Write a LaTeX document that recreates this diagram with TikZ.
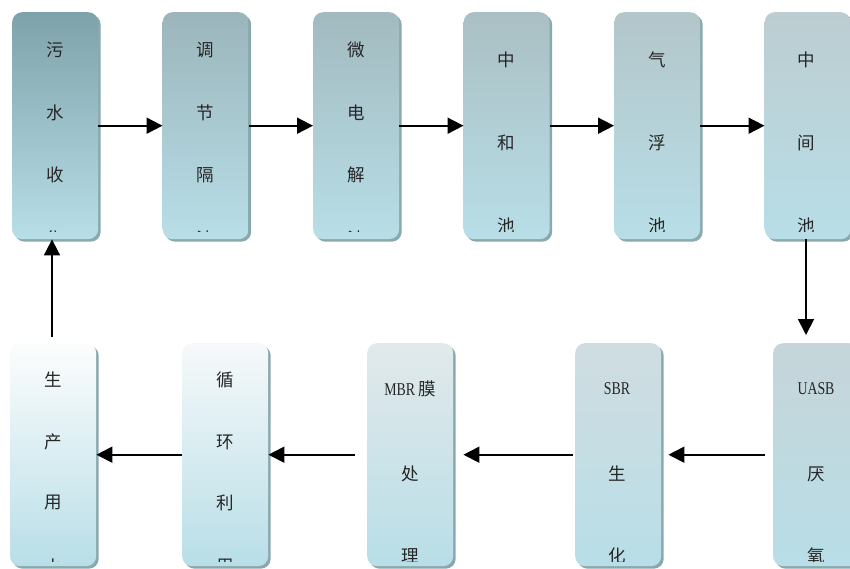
\documentclass[tikz,border=0pt]{standalone}
\usepackage{fontspec}
\newfontfamily\cjk{Noto Sans CJK SC}
\newfontfamily\latn{Liberation Serif}[FakeStretch=0.77]
\usetikzlibrary{arrows.meta,shadows}

\definecolor{shd}{HTML}{8AA9AF}
\definecolor{bot}{HTML}{B8DEE7}
\definecolor{tA}{HTML}{7FA2AA}
\definecolor{tB}{HTML}{9BB5BB}
\definecolor{tC}{HTML}{A2BABF}
\definecolor{tD}{HTML}{AABFC3}
\definecolor{tE}{HTML}{B3C6CA}
\definecolor{tF}{HTML}{BCCDD1}
\definecolor{tG}{HTML}{C6D5D9}
\definecolor{tH}{HTML}{D0DDE0}
\definecolor{tI}{HTML}{E2E9EB}
\definecolor{tJ}{HTML}{F6F9FA}
\definecolor{tK}{HTML}{FCFDFD}
\definecolor{ink}{HTML}{262626}

\tikzset{
  stage/.style={anchor=north west, minimum width=86pt, rounded corners=10pt,
    inner sep=0pt, bottom color=bot, top color=#1,
    drop shadow={shadow xshift=2.5pt, shadow yshift=-2.5pt, fill=shd, opacity=1}},
  toprow/.style={stage=#1, minimum height=227pt},
  botrow/.style={stage=#1, minimum height=223pt},
  lbl/.style={font=\cjk\fontsize{17.5}{17.5}\selectfont, text=ink, inner sep=0pt},
  lat/.style={font=\latn\fontsize{18}{18}\selectfont, text=ink, inner sep=0pt},
  flow/.style={line width=1.8pt, -{Triangle[length=16pt,width=16pt]}}
}

\begin{document}
\begin{tikzpicture}[x=1pt, y=-1pt]
\clip (0,0) rectangle (850,569);
\fill[white] (0,0) rectangle (850,569);

% upper row of stages
\node[toprow=tA] (b1) at (12,12) {};
\node[toprow=tB] (b2) at (162.5,12) {};
\node[toprow=tC] (b3) at (313,12) {};
\node[toprow=tD] (b4) at (463.5,12) {};
\node[toprow=tE] (b5) at (614,12) {};
\node[toprow=tF] (b6) at (764.5,12) {};

% lower row of stages
\node[botrow=tG] (c1) at (773,343) {};
\node[botrow=tH] (c2) at (575,343) {};
\node[botrow=tI] (c3) at (367,343) {};
\node[botrow=tJ] (c4) at (182,343) {};
\node[botrow=tK] (c5) at (10,343) {};

% labels, cut off at the lower edge of each box
\begin{scope}
\clip (0,0) rectangle (850,231);
\node[lbl] (l11) at (55,50) {污};
\node[lbl] (l12) at (55,113) {水};
\node[lbl] (l13) at (55,175) {收};
\node[lbl] (l14) at (55,239) {集};
\node[lbl] (l21) at (205,50) {调};
\node[lbl] (l22) at (205,113) {节};
\node[lbl] (l23) at (205,175) {隔};
\node[lbl] (l24) at (205,239) {油};
\node[lbl] (l31) at (356,50) {微};
\node[lbl] (l32) at (356,113) {电};
\node[lbl] (l33) at (356,175) {解};
\node[lbl] (l34) at (356,239) {池};
\node[lbl] (l41) at (506,60) {中};
\node[lbl] (l42) at (506,143) {和};
\node[lbl] (l43) at (506,226) {池};
\node[lbl] (l51) at (657,60) {气};
\node[lbl] (l52) at (657,143) {浮};
\node[lbl] (l53) at (657,226) {池};
\node[lbl] (l61) at (806,60) {中};
\node[lbl] (l62) at (806,143) {间};
\node[lbl] (l63) at (806,226) {池};
\end{scope}

\begin{scope}
\clip (0,343) rectangle (850,561);
\node[lat] (m11) at (816,389) {UASB};
\node[lbl] (m12) at (816,474) {厌};
\node[lbl] (m13) at (816,556) {氧};
\node[lat] (m21) at (617,389) {SBR};
\node[lbl] (m22) at (617,474) {生};
\node[lbl] (m23) at (617,556) {化};
\node[lbl] (m31) at (410,389) {{\latn\fontsize{18}{18}\selectfont MBR}\,膜};
\node[lbl] (m32) at (410,474) {处};
\node[lbl] (m33) at (410,556) {理};
\node[lbl] (m41) at (225,380) {循};
\node[lbl] (m42) at (225,442) {环};
\node[lbl] (m43) at (225,503) {利};
\node[lbl] (m44) at (225,567) {用};
\node[lbl] (m51) at (53,380) {生};
\node[lbl] (m52) at (53,442) {产};
\node[lbl] (m53) at (53,503) {用};
\node[lbl] (m54) at (53,567) {水};
\end{scope}

% flow connectors
\draw[flow] (b1.east) -- (b2.west);
\draw[flow] (b2.east) -- (b3.west);
\draw[flow] (b3.east) -- (b4.west);
\draw[flow] (b4.east) -- (b5.west);
\draw[flow] (b5.east) -- (b6.west);
\draw[flow, shorten >=8pt] (b6.south -| 806,0) -- (c1.north -| 806,0);
\draw[flow, shorten <=8pt, shorten >=7pt] (c1.west) -- (c2.east);
\draw[flow, shorten <=2pt, shorten >=10pt] (c2.west) -- (c3.east);
\draw[flow, shorten <=12pt] (c3.west) -- (c4.east);
\draw[flow] (c4.west) -- (c5.east);
\draw[flow, shorten <=6pt] (c5.north -| 52,0) -- (b1.south -| 52,0);
\end{tikzpicture}
\end{document}
